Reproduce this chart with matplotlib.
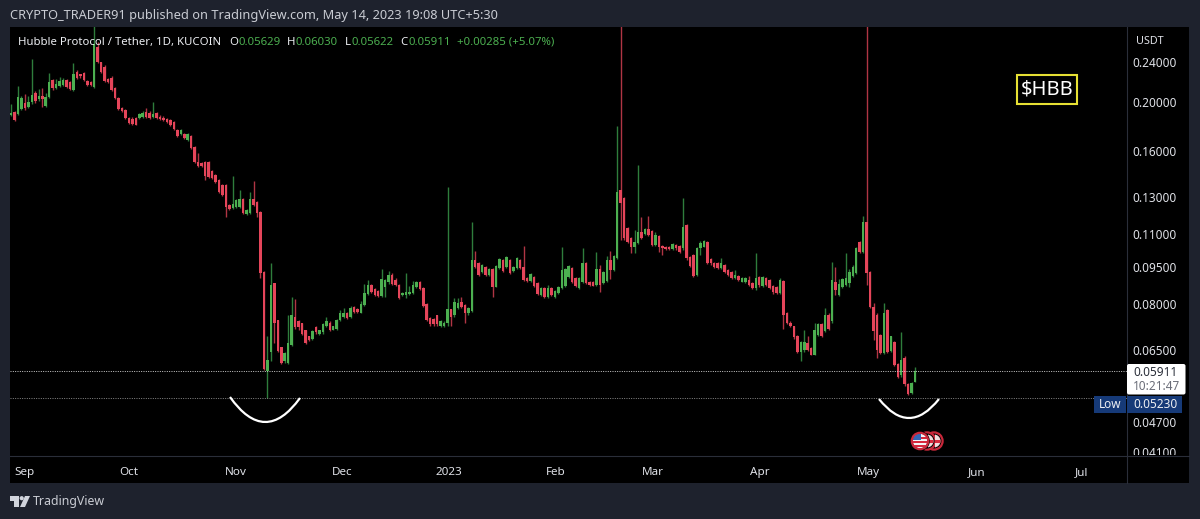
import matplotlib
matplotlib.use("Agg")
import matplotlib.pyplot as plt
import numpy as np
from matplotlib.patches import Rectangle, FancyBboxPatch, PathPatch, Circle, Polygon
from matplotlib.path import Path
from matplotlib.transforms import Affine2D, Bbox
from matplotlib.ticker import NullLocator

plt.rcParams['font.family'] = ['Noto Sans', 'DejaVu Sans']

opens = [.1888,.1914,.1897,.1941,.1994,.1958,.2003,.2086,.2030,.2058,.1967,.2049,.2212,.2134,.2153,.2163,.2212,.2192,.2114,.2293,
.2273,.2283,.2202,.2192,.2144,.2568,.2400,.2346,.2222,.2232,.2134,.2040,.1950,.1931,.1863,.1854,.1863,.1863,.1871,.1914,
.1905,.1871,.1905,.1871,.1863,.1854,.1846,.1829,.1764,.1732,.1732,.1686,.1717,.1634,.1526,.1519,.1526,.1526,.1465,.1440,
.1407,.1376,.1376,.1256,.1239,.1245,.1245,.1291,.1206,.1211,.1291,.1273,.1217,.0928,.0592,.0646,.0883,.0744,.0661,.0618,
.0615,.0667,.0757,.0741,.0734,.0711,.0692,.0685,.0721,.0701,.0705,.0724,.0737,.0711,.0717,.0744,.0757,.0771,.0757,.0792,
.0785,.0771,.0799,.0840,.0875,.0859,.0851,.0833,.0867,.0887,.0915,.0895,.0875,.0836,.0836,.0840,.0844,.0867,.0887,.0863,
.0803,.0754,.0750,.0761,.0724,.0724,.0737,.0785,.0761,.0789,.0810,.0799,.0768,.0778,.0980,.0966,.0928,.0949,.0915,.0940,
.0867,.0945,.0980,.0949,.0980,.0932,.0945,.0980,.0949,.0903,.0891,.0907,.0883,.0836,.0863,.0829,.0863,.0829,.0844,.0863,
.0871,.0907,.0945,.0903,.0863,.0887,.0966,.0887,.0887,.0875,.0940,.0883,.0891,.0980,.0936,.0988,.1345,.1297,.1132,.1082,
.1038,.1058,.1112,.1102,.1127,.1117,.1048,.1092,.1043,.1038,.1038,.1029,.1048,.1043,.1034,.1148,.0992,.1001,.0915,.1034,
.1038,.1062,.0984,.0966,.0966,.0945,.0957,.0936,.0928,.0903,.0911,.0887,.0887,.0895,.0883,.0863,.0907,.0871,.0903,.0895,
.0871,.0867,.0844,.0891,.0771,.0737,.0724,.0695,.0646,.0652,.0673,.0658,.0637,.0698,.0731,.0708,.0764,.0741,.0887,.0836,
.0867,.0875,.0883,.0911,.0923,.1062,.1015,.1163,.0928,.0792,.0764,.0698,.0643,.0781,.0649,.0676,.0612,.0580,.0629,.0559,
.0536,.05629]
highs = [.1985,.1923,.2153,.2058,.2077,.2058,.2433,.2105,.2124,.2134,.2086,.2283,.2222,.2222,.2242,.2232,.2222,.2202,.2389,.2314,
.2273,.2293,.2212,.2202,.3000,.2628,.2400,.2367,.2232,.2252,.2144,.2049,.1958,.1941,.1871,.1871,.1871,.1905,.1923,.1950,
.1923,.2003,.1914,.1888,.1880,.1863,.1854,.1838,.1773,.1773,.1740,.1740,.1725,.1641,.1590,.1526,.1533,.1533,.1472,.1446,
.1414,.1382,.1382,.1262,.1433,.1291,.1345,.1297,.1234,.1333,.1401,.1279,.1223,.0932,.0692,.0966,.0883,.0747,.0661,.0646,
.0764,.0829,.0821,.0747,.0737,.0714,.0695,.0711,.0724,.0714,.0734,.0757,.0741,.0727,.0750,.0781,.0789,.0774,.0796,.0796,
.0789,.0814,.0879,.0895,.0879,.0863,.0855,.0940,.0899,.0932,.0923,.0903,.0879,.0848,.0923,.0871,.0891,.0891,.0891,.0867,
.0806,.0757,.0754,.0764,.0744,.0741,.1363,.0785,.0825,.0825,.0829,.0803,.0792,.1163,.1020,.0970,.0962,.0953,.0945,.0945,
.0957,.0988,.0984,.0997,.0984,.0953,.0992,.0984,.1043,.0907,.0923,.0911,.0887,.0867,.0867,.0875,.0867,.0855,.0871,.1038,
.0945,.0957,.0949,.0907,.0907,.1034,.0970,.0891,.0891,.1015,.0957,.0932,.0997,.1020,.1001,.1797,.3000,.1303,.1137,.1087,
.1122,.1506,.1190,.1132,.1195,.1122,.1112,.1097,.1048,.1043,.1043,.1058,.1053,.1048,.1297,.1153,.0997,.1006,.1038,.1067,
.1072,.1067,.0988,.0970,.0970,.0988,.0962,.0940,.0932,.0936,.0915,.0907,.0907,.0911,.0887,.1010,.0911,.0911,.0907,.0899,
.0875,.0871,.0903,.0895,.0774,.0741,.0727,.0698,.0679,.0711,.0692,.0661,.0734,.0734,.0734,.0789,.0768,.0970,.0949,.0899,
.0903,.1010,.0940,.0957,.1038,.1067,.1195,.3000,.0932,.0806,.0768,.0701,.0806,.0785,.0695,.0679,.0615,.0705,.0632,.0561,
.0564,.0603]
lows = [.1880,.1838,.1888,.1931,.1931,.1950,.1985,.1994,.2012,.1958,.1958,.2040,.2114,.2124,.2144,.2153,.2134,.2114,.2105,.2222,
.2232,.2202,.2153,.2153,.2134,.2389,.2283,.2192,.2182,.2105,.2030,.1931,.1914,.1854,.1813,.1805,.1805,.1854,.1863,.1863,
.1854,.1863,.1854,.1846,.1838,.1821,.1797,.1764,.1709,.1725,.1694,.1678,.1620,.1519,.1492,.1492,.1407,.1420,.1414,.1388,
.1327,.1309,.1190,.1228,.1234,.1239,.1239,.1206,.1200,.1206,.1251,.1190,.0903,.0595,.0523,.0618,.0673,.0646,.0612,.0615,
.0612,.0664,.0717,.0714,.0698,.0670,.0679,.0682,.0701,.0698,.0701,.0721,.0708,.0711,.0714,.0741,.0754,.0750,.0754,.0771,
.0771,.0768,.0796,.0836,.0844,.0833,.0829,.0829,.0829,.0879,.0875,.0871,.0821,.0833,.0825,.0836,.0840,.0863,.0855,.0792,
.0741,.0727,.0727,.0727,.0721,.0721,.0724,.0724,.0757,.0785,.0789,.0737,.0764,.0774,.0945,.0911,.0923,.0911,.0911,.0829,
.0867,.0940,.0928,.0945,.0919,.0928,.0940,.0940,.0891,.0887,.0887,.0867,.0836,.0833,.0825,.0825,.0833,.0825,.0840,.0859,
.0867,.0903,.0883,.0867,.0859,.0883,.0879,.0871,.0871,.0871,.0848,.0879,.0887,.0899,.0932,.0984,.1072,.1072,.1058,.1010,
.1010,.1053,.1077,.1097,.1092,.1043,.1043,.1015,.1001,.1025,.1025,.1025,.1025,.1010,.1025,.0980,.0949,.0907,.0911,.1001,
.1038,.0962,.0957,.0945,.0940,.0940,.0923,.0911,.0899,.0899,.0891,.0887,.0883,.0871,.0859,.0855,.0867,.0867,.0871,.0859,
.0840,.0840,.0840,.0717,.0731,.0721,.0685,.0643,.0618,.0646,.0649,.0635,.0635,.0692,.0689,.0705,.0714,.0737,.0836,.0833,
.0863,.0871,.0867,.0907,.0919,.1010,.1010,.0875,.0789,.0682,.0629,.0640,.0640,.0643,.0646,.0604,.0574,.0577,.0554,.0532,
.0534,.05622]
closes = [.1905,.1846,.2049,.2040,.1950,.2003,.2067,.2012,.2058,.2030,.2049,.2192,.2134,.2173,.2202,.2212,.2144,.2124,.2273,.2232,
.2252,.2212,.2163,.2163,.2604,.2400,.2293,.2202,.2192,.2114,.2040,.1941,.1923,.1863,.1821,.1813,.1805,.1897,.1905,.1871,
.1863,.1897,.1863,.1854,.1846,.1829,.1805,.1773,.1717,.1764,.1702,.1732,.1627,.1526,.1499,.1499,.1433,.1427,.1420,.1395,
.1333,.1315,.1245,.1234,.1262,.1285,.1291,.1211,.1228,.1291,.1256,.1211,.0923,.0598,.0623,.0875,.0737,.0649,.0615,.0643,
.0673,.0761,.0721,.0721,.0701,.0673,.0682,.0708,.0705,.0711,.0731,.0741,.0711,.0724,.0744,.0771,.0771,.0754,.0789,.0774,
.0774,.0803,.0844,.0875,.0848,.0836,.0833,.0899,.0895,.0915,.0879,.0875,.0825,.0844,.0848,.0848,.0875,.0887,.0859,.0796,
.0744,.0731,.0731,.0731,.0741,.0737,.0785,.0757,.0810,.0806,.0792,.0768,.0789,.0980,.0949,.0915,.0957,.0915,.0940,.0867,
.0953,.0984,.0932,.0992,.0923,.0949,.0988,.0945,.0895,.0891,.0919,.0871,.0840,.0863,.0829,.0863,.0836,.0851,.0867,.0936,
.0940,.0953,.0887,.0871,.0903,.0966,.0883,.0875,.0871,.0940,.0875,.0928,.0980,.0936,.0997,.1333,.1267,.1082,.1062,.1038,
.1062,.1112,.1082,.1127,.1097,.1048,.1097,.1038,.1034,.1029,.1029,.1053,.1034,.1015,.1137,.0988,.0953,.0911,.1034,.1058,
.1067,.0966,.0966,.0949,.0945,.0966,.0928,.0915,.0903,.0915,.0895,.0903,.0903,.0875,.0863,.0903,.0875,.0907,.0875,.0863,
.0848,.0844,.0895,.0764,.0734,.0724,.0689,.0646,.0676,.0676,.0652,.0637,.0714,.0731,.0692,.0764,.0717,.0895,.0855,.0879,
.0899,.0903,.0928,.0949,.1034,.1015,.1163,.0923,.0792,.0708,.0652,.0643,.0771,.0646,.0692,.0607,.0577,.0623,.0557,.0534,
.0561,.05911]

price_ticks = [0.24, 0.20, 0.16, 0.13, 0.11, 0.095, 0.08, 0.065, 0.047, 0.041]
price_labels = ['0.24000', '0.20000', '0.16000', '0.13000', '0.11000', '0.09500', '0.08000', '0.06500', '0.04700', '0.04100']
month_ticks = [3.9, 34.0, 64.9, 95.5, 126.4, 157.3, 185.3, 216.2, 247.5, 278.9, 309.2]
month_labels = ['Sep', 'Oct', 'Nov', 'Dec', '2023', 'Feb', 'Mar', 'Apr', 'May', 'Jun', 'Jul']
last_price = 0.05911
low_price = 0.05230

BG = '#1e222d'
GREEN, GREEN_W = '#4caf50', '#2e7d3c'
RED, RED_W = '#e5455a', '#b03544'
TXT = '#dfe1e7'
SEP = '#2a2e39'

W, H = 1200, 519
fig = plt.figure(figsize=(W/100, H/100), dpi=100, facecolor=BG)
px = Affine2D().scale(1/W, -1/H).translate(0, 1) + fig.transFigure

fig.add_artist(Rectangle((10, 27), 1179, 456, transform=px, fc='black', ec='none', zorder=-2))

ax = fig.add_axes([10/W, 1-456/H, 1117/W, 429/H], facecolor='none')
ax.set_yscale('log')
K = 220.7
ax.set_ylim(0.24*np.exp(-(456-62)/K), 0.24*np.exp((62-27)/K))
step = 3.4636
ax.set_xlim((10-11.1)/step, (1127-11.1)/step)

idx = np.arange(len(closes))
o, h, l, c = map(np.array, (opens, highs, lows, closes))
up = c >= o
ax.vlines(idx[up], l[up], h[up], color=GREEN_W, lw=1.0, zorder=2)
ax.vlines(idx[~up], l[~up], h[~up], color=RED_W, lw=1.0, zorder=2)
ax.bar(idx[up], (c-o)[up], bottom=o[up], width=0.72, color=GREEN, lw=0, zorder=3)
ax.bar(idx[~up], (o-c)[~up], bottom=c[~up], width=0.72, color=RED, lw=0, zorder=3)

ax.axhline(last_price, color='#cfcfcf', lw=0.7, ls=(0, (1, 1.4)), zorder=4)
ax.axhline(low_price, color='#8a8a8a', lw=0.7, ls=(0, (1, 1.4)), zorder=4)

for s in ax.spines.values():
    s.set_visible(False)
ax.yaxis.tick_right()
ax.set_yticks(price_ticks, price_labels)
ax.yaxis.set_minor_locator(NullLocator())
ax.tick_params(axis='y', length=0, pad=4.2, labelsize=8.5, labelcolor=TXT)
ax.set_xticks(month_ticks, month_labels)
ax.tick_params(axis='x', length=0, pad=8, labelsize=8.4, labelcolor=TXT)
for lb in ax.get_xticklabels():
    if lb.get_text() == '2023':
        lb.set_fontweight('bold')
clip = Bbox([[0, H-455], [W, H]])
for lb in ax.get_yticklabels():
    lb.set_clip_box(clip)
    lb.set_clip_on(True)

# separators of the panels
fig.add_artist(plt.Line2D([1126.5, 1126.5], [27, 483], transform=px, color=SEP, lw=0.8, zorder=1))
fig.add_artist(plt.Line2D([10, 1189], [455.5, 455.5], transform=px, color=SEP, lw=0.8, zorder=1))

def T(x, y, s, **kw):
    kw.setdefault('va', 'center')
    kw.setdefault('ha', 'left')
    kw.setdefault('color', TXT)
    kw.setdefault('fontsize', 8.5)
    fig.text(x/W, 1-y/H, s, zorder=8, **kw)

T(10, 15, 'CRYPTO_TRADER91 published on TradingView.com, May 14, 2023 19:08 UTC+5:30', color='#c9ccd3', fontsize=9.2)
T(18, 42.5, 'Hubble Protocol / Tether, 1D, KUCOIN', color='#eceef2', fontsize=8.2)
LG = '#4caf50'
for x, s, col in [(229, 'O', '#eceef2'), (238.5, '0.05629', LG), (287, 'H', '#eceef2'), (295.5, '0.06030', LG),
                  (345, 'L', '#eceef2'), (351.5, '0.05622', LG), (400, 'C', '#eceef2'), (408, '0.05911', LG),
                  (457, '+0.00285 (+5.07%)', LG)]:
    T(x, 42.5, s, color=col, fontsize=8.2)
T(1136, 41, 'USDT', fontsize=7.8)

# $HBB label
fig.add_artist(Rectangle((1017, 74.5), 59.5, 29, transform=px, fc='black', ec='#e6e033', lw=1.5, zorder=6))
T(1046.8, 89.5, '$HBB', ha='center', color='white', fontsize=14.5, fontweight='bold')

# price labels
fig.add_artist(FancyBboxPatch((1127, 364), 58.5, 30.5, boxstyle='round,pad=0,rounding_size=2', transform=px,
                              fc='white', ec='none', zorder=6))
T(1133, 372, '0.05911', color='#2a2e39')
T(1133, 387, '10:21:47', color='#6a6d78')
fig.add_artist(Rectangle((1093.5, 396), 32.5, 17, transform=px, fc='#163a78', ec='none', zorder=6))
fig.add_artist(Rectangle((1126.5, 396), 55, 17, transform=px, fc='#163a78', ec='none', zorder=6))
T(1098.5, 404.5, 'Low', color='#eceef2')
T(1133, 404.5, '0.05230', color='#eceef2')

# hand-drawn arcs
for p0, p1, p2 in [((230, 397), (265, 446.5), (300, 398)), ((879, 399), (909, 437), (939, 399))]:
    fig.add_artist(PathPatch(Path([p0, p1, p2], [Path.MOVETO, Path.CURVE3, Path.CURVE3]), transform=px,
                             fc='none', ec='white', lw=1.6, zorder=6))

# event icons
for cx in (934, 927):
    fig.add_artist(Circle((cx, 441), 8.6, transform=px, fc='black', ec='#c8283a', lw=1.6, zorder=6))
    hal = Rectangle((cx+1, 434), 7, 14, transform=px, fc='#f0dcdc', ec='none', zorder=6.1)
    fig.add_artist(hal)
    hal.set_clip_path(Circle((cx, 441), 6.5, transform=px))
    st = Rectangle((cx+1, 439.5), 7, 3, transform=px, fc='#d8283c', ec='none', zorder=6.15)
    fig.add_artist(st)
    st.set_clip_path(Circle((cx, 441), 6.5, transform=px))
fig.add_artist(Circle((920, 441), 9.8, transform=px, fc='black', ec='none', zorder=6.18))
fig.add_artist(Circle((920, 441), 7.5, transform=px, fc='#f4f4f4', ec='none', zorder=6.2))
for y in (437.5, 441.5, 445.5):
    st = Rectangle((911, y-1), 18, 2, transform=px, fc='#d8283c', ec='none', zorder=6.3)
    fig.add_artist(st)
    st.set_clip_path(Circle((920, 441), 7.5, transform=px))
cant = Rectangle((911, 432), 9.5, 8, transform=px, fc='#3566b5', ec='none', zorder=6.4)
fig.add_artist(cant)
cant.set_clip_path(Circle((920, 441), 7.5, transform=px))
fig.add_artist(Circle((920, 441), 8.2, transform=px, fc='none', ec='#c8283a', lw=1.6, zorder=6.5))

# TradingView logo
LOGO = '#d1d4dc'
fig.add_artist(Polygon([(10, 496), (19, 496), (19, 507), (14, 507), (14, 501), (10, 501)], transform=px, fc=LOGO, ec='none', zorder=6))
fig.add_artist(Circle((21.7, 498.2), 2.1, transform=px, fc=LOGO, ec='none', zorder=6))
fig.add_artist(Polygon([(25, 496), (30, 496), (25, 507), (20, 507)], transform=px, fc=LOGO, ec='none', zorder=6))
T(33, 501.5, 'TradingView', color='#c9ccd3', fontsize=8.9)

fig.savefig('out.png', dpi=100, facecolor=BG)
